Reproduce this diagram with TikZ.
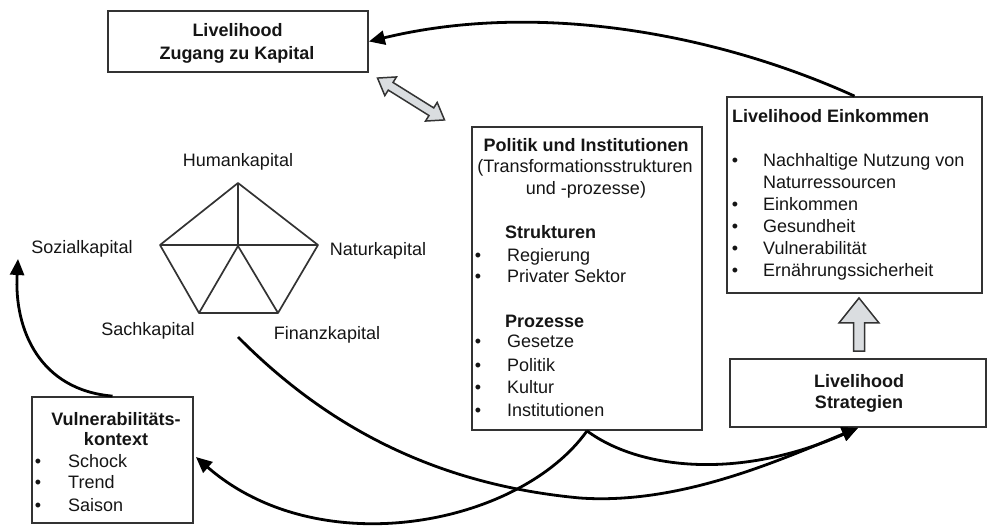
\documentclass[tikz,border=0pt]{standalone}
\usepackage{fontspec}
\setmainfont{Liberation Sans}
\usetikzlibrary{arrows.meta,calc}
\definecolor{edge}{HTML}{333333}
\definecolor{hollow}{HTML}{DADDE0}
\definecolor{ink}{HTML}{151515}
\begin{document}
\begin{tikzpicture}[x=1pt,y=-1pt,
  box/.style={draw=edge, line width=1.8pt, inner sep=0pt},
  t/.style={inner sep=0pt, text=ink, font=\fontsize{18}{22}\selectfont},
  tb/.style={inner sep=0pt, text=ink, font=\fontsize{18}{22}\selectfont\bfseries},
  flow/.style={line width=2.8pt, -{Triangle[length=16pt,width=14pt]}},
  hol/.style={draw=edge, fill=hollow, line width=1.5pt, line join=miter},
  pent/.style={draw=edge, line width=1.7pt, line join=round}]
\useasboundingbox (0,0) rectangle (988,529);

% boxes
\node[box, minimum width=260pt, minimum height=61pt] (kap) at (238,41.5) {};
\node[box, minimum width=230pt, minimum height=303pt] (pol) at (587,278.5) {};
\node[box, minimum width=255pt, minimum height=196pt] (ein) at (854.5,195) {};
\node[box, minimum width=256pt, minimum height=68pt] (str) at (858,393) {};
\node[box, minimum width=161pt, minimum height=126pt] (vul) at (112.5,460) {};

% top box text
\node[tb, anchor=base] (kap1) at (237.5,37) {Livelihood};
\node[tb, anchor=base] (kap2) at (237,60) {Zugang zu Kapital};

% Politik box text
\node[tb, anchor=base] (pol1) at (586,152) {Politik und Institutionen};
\node[t, anchor=base] (pol2) at (585,173) {(Transformationsstrukturen};
\node[t, anchor=base] (pol3) at (586,195) {und -prozesse)};
\node[tb, anchor=base west] (pols) at (505,239) {Strukturen};
\node[t, anchor=base] (pb1) at (478,262) {•};
\node[t, anchor=base] (pb2) at (478,283) {•};
\node[t, anchor=base west] (pi1) at (507,262) {Regierung};
\node[t, anchor=base west] (pi2) at (507,283) {Privater Sektor};
\node[tb, anchor=base west] (polp) at (505,327) {Prozesse};
\node[t, anchor=base] (pb3) at (478,348) {•};
\node[t, anchor=base] (pb4) at (478,371) {•};
\node[t, anchor=base] (pb5) at (478,393) {•};
\node[t, anchor=base] (pb6) at (478,416) {•};
\node[t, anchor=base west] (pi3) at (507,348) {Gesetze};
\node[t, anchor=base west] (pi4) at (507,371) {Politik};
\node[t, anchor=base west] (pi5) at (507,393) {Kultur};
\node[t, anchor=base west] (pi6) at (507,416) {Institutionen};

% Einkommen box text
\node[tb, anchor=base west] (ein0) at (732,123) {Livelihood Einkommen};
\node[t, anchor=base] (eb1) at (735,167) {•};
\node[t, anchor=base] (eb2) at (735,211) {•};
\node[t, anchor=base] (eb3) at (735,233) {•};
\node[t, anchor=base] (eb4) at (735,255) {•};
\node[t, anchor=base] (eb5) at (735,277) {•};
\node[t, anchor=base west] (ei1) at (763,167) {Nachhaltige Nutzung von};
\node[t, anchor=base west] (ei1b) at (763,189) {Naturressourcen};
\node[t, anchor=base west] (ei2) at (763,211) {Einkommen};
\node[t, anchor=base west] (ei3) at (763,233) {Gesundheit};
\node[t, anchor=base west] (ei4) at (763,255) {Vulnerabilität};
\node[t, anchor=base west] (ei5) at (763,277) {Ernährungssicherheit};

% Strategien text
\node[tb, anchor=base] (str1) at (859,387) {Livelihood};
\node[tb, anchor=base] (str2) at (859,408) {Strategien};

% Vulnerabilitaet text
\node[tb, anchor=base] (vul1) at (116,425) {Vulnerabilitäts-};
\node[tb, anchor=base] (vul2) at (116,445) {kontext};
\node[t, anchor=base] (vb1) at (38,467) {•};
\node[t, anchor=base] (vb2) at (38,488) {•};
\node[t, anchor=base] (vb3) at (38,511) {•};
\node[t, anchor=base west] (vi1) at (68,467) {Schock};
\node[t, anchor=base west] (vi2) at (68,488) {Trend};
\node[t, anchor=base west] (vi3) at (68,511) {Saison};

% pentagon
\coordinate (pT) at (238,183);
\coordinate (pL) at (160,245);
\coordinate (pR) at (318,245);
\coordinate (pBL) at (199,313);
\coordinate (pBR) at (278,313);
\coordinate (pC) at (238,246);
\draw[pent] (pT) -- (pR) -- (pBR) -- (pBL) -- (pL) -- cycle;
\draw[pent] (pT) -- (pC) (pL) -- (pR) (pC) -- (pBL) (pC) -- (pBR);

\node[t, anchor=base] (hum) at (238,167) {Humankapital};
\node[t, anchor=base] (soz) at (82,254) {Sozialkapital};
\node[t, anchor=base] (nat) at (378,256) {Naturkapital};
\node[t, anchor=base] (sach) at (148,336) {Sachkapital};
\node[t, anchor=base] (fin) at (327,339) {Finanzkapital};

% hollow arrows
\draw[hol] (859,298) -- (879,323) -- (864.5,323) -- (864.5,351) -- (853.5,351) -- (853.5,323) -- (839,323) -- cycle;
\begin{scope}[shift={(411,99)}, rotate=-32]
\draw[hol] (-39.5,0) -- (-24,-11) -- (-24,-4.5) -- (24,-4.5) -- (24,-11) -- (39.5,0) -- (24,11) -- (24,4.5) -- (-24,4.5) -- (-24,11) -- cycle;
\end{scope}

% connectors
\coordinate (soztip) at (18,259);
\coordinate (capout) at (238,337);
\draw[flow] (ein.north) .. controls (720,35) and (540,0) .. (kap.east);
\draw[flow] (vul.north) .. controls (40,390) and (14,330) .. (soztip);
\draw[flow] (capout) .. controls (330,430) and (440,485) .. (580,498) .. controls (680,505) and (780,460) .. (str.south);
\draw[flow] (pol.south) .. controls (640,470) and (740,480) .. (str.south);
\draw[flow] (pol.south) .. controls (520,525) and (320,565) .. ($(vul.east)+(2,-3)$);
\end{tikzpicture}
\end{document}
